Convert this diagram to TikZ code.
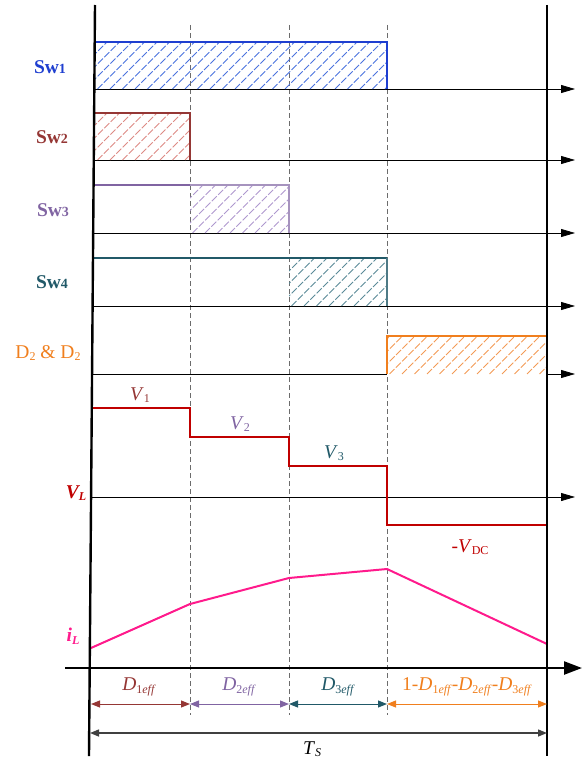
\documentclass[tikz,border=0pt]{standalone}
\usepackage{fontspec}
\setmainfont{Liberation Serif}
\usetikzlibrary{arrows.meta}
\definecolor{cblue}{HTML}{1F3FD0}
\definecolor{cblueh}{HTML}{4A72DE}
\definecolor{cbrown}{HTML}{953735}
\definecolor{cbrownh}{HTML}{DD8A84}
\definecolor{cpurple}{HTML}{8064A2}
\definecolor{cpurpleh}{HTML}{AE98CE}
\definecolor{cteal}{HTML}{215968}
\definecolor{ctealh}{HTML}{5A8A98}
\definecolor{corange}{HTML}{F07F1E}
\definecolor{corangeh}{HTML}{F39A55}
\definecolor{cred}{HTML}{C00000}
\definecolor{cpink}{HTML}{FF1A8C}
\newcommand{\hatchrect}[5]{%
  \begin{scope}
    \clip (#1,#2) rectangle (#3,#4);
    \foreach \k in {-60,-47.5,...,460}
      \draw[#5, line width=1pt, dash pattern=on 7pt off 2pt] (#1+\k,#4) -- ++(80,-80);
  \end{scope}}
\newcommand{\sublow}[1]{\raisebox{-2.5pt}{\fontsize{12}{12}\selectfont #1}}
\tikzset{
  base/.style={line width=0.8pt, black, -{Triangle[length=14pt,width=8pt]}},
  guide/.style={line width=0.9pt, gray!85!black, dash pattern=on 5pt off 3pt},
  frame/.style={line width=2.4pt, black},
  dim/.style={line width=1pt, {Triangle[length=9pt,width=7pt]}-{Triangle[length=9pt,width=7pt]}},
  lab/.style={font=\fontsize{19.5}{19.5}\selectfont},
}
\begin{document}
\begin{tikzpicture}[x=1pt,y=-1pt]
\useasboundingbox (0,0) rectangle (582,760);
% guide coordinates
\coordinate (g1t) at (190,25); \coordinate (g1b) at (190,715);
\coordinate (g2t) at (289,25); \coordinate (g2b) at (289,715);
\coordinate (g3t) at (387,25); \coordinate (g3b) at (387,715);
\coordinate (g4t) at (547,5); \coordinate (g4b) at (547,756);
% dashed guides
\draw[guide] (g1t) -- (g1b);
\draw[guide] (g2t) -- (g2b);
\draw[guide] (g3t) -- (g3b);
% baselines
\coordinate (b1s) at (94,89);  \coordinate (b1e) at (575,89);
\coordinate (b2s) at (94,160); \coordinate (b2e) at (575,160);
\coordinate (b3s) at (93,233); \coordinate (b3e) at (575,233);
\coordinate (b4s) at (93,306); \coordinate (b4e) at (575,306);
\coordinate (b5s) at (93,374); \coordinate (b5e) at (575,374);
\coordinate (b6s) at (92,497); \coordinate (b6e) at (575,497);
\draw[base] (b1s) -- (b1e);
\draw[base] (b2s) -- (b2e);
\draw[base] (b3s) -- (b3e);
\draw[base] (b4s) -- (b4e);
\draw[line width=0.8pt] (b5s) -- (387,374);
\draw[base] (547,374) -- (b5e);
\draw[base] (b6s) -- (b6e);
% Sw1
\hatchrect{95}{42}{387}{89}{cblueh}
\draw[cblue, line width=2pt] (95,42) -- (387,42) -- (387,89);
% Sw2
\hatchrect{95}{113}{190}{160}{cbrownh}
\draw[cbrown, line width=2pt] (95,113) -- (190,113) -- (190,160);
% Sw3
\hatchrect{190}{185}{289}{233}{cpurpleh}
\draw[cpurple, line width=1.6pt] (93,185) -- (190,185);
\draw[cpurple!70, line width=1.2pt] (190,185) -- (289,185) -- (289,233);
% Sw4
\hatchrect{289}{258}{387}{306}{ctealh}
\draw[cteal, line width=1.6pt] (92,258) -- (387,258);
\draw[cteal!80, line width=1.2pt] (387,258) -- (387,306);
% Diodes
\hatchrect{387}{336}{547}{374}{corangeh}
\draw[corange, line width=1.6pt] (387,374) -- (387,336) -- (547,336);
% V_L
\draw[cred, line width=2.2pt] (92,408) -- (190,408) -- (190,437) -- (289,437) -- (289,466) -- (387,466) -- (387,525) -- (547,525);
% i_L
\draw[cpink, line width=2pt] (91,648) -- (190,604) -- (289,578) -- (387,569) -- (547,644);
% frame axes
\draw[frame] (95,5) -- (89,756);
\draw[frame] (g4t) -- (g4b);
\coordinate (ax0) at (65,668); \coordinate (ax1) at (582,668);
\draw[frame, -{Triangle[length=18pt,width=13pt]}] (ax0) -- (ax1);
% dimension arrows
\coordinate (d0) at (91,704); \coordinate (d1) at (190,704);
\coordinate (d2) at (289,704); \coordinate (d3) at (387,704);
\coordinate (d4) at (547,704);
\draw[dim, cbrown] (d0) -- (d1);
\draw[dim, cpurple] (d1) -- (d2);
\draw[dim, cteal] (d2) -- (d3);
\draw[dim, corange] (d3) -- (d4);
\coordinate (t0) at (90,733); \coordinate (t1) at (547,733);
\draw[dim, black!75, line width=1.4pt] (t0) -- (t1);
% labels
\node[lab, text=cblue] (lsw1) at (50,67) {\textbf{Sw\fontsize{14}{14}\selectfont 1}};
\node[lab, text=cbrown] (lsw2) at (52,137) {\textbf{Sw\fontsize{14}{14}\selectfont 2}};
\node[lab, text=cpurple] (lsw3) at (53,210) {\textbf{Sw\fontsize{14}{14}\selectfont 3}};
\node[lab, text=cteal] (lsw4) at (52,282) {\textbf{Sw\fontsize{14}{14}\selectfont 4}};
\node[lab, text=corange] (ld) at (48,353) {D\sublow{2} \& D\sublow{2}};
\node[lab, text=cred] (lvl) at (76,493) {\textbf{\textit{V\sublow{L}}}};
\node[lab, text=cpink] (lil) at (73,636) {\textbf{\textit{i\sublow{L}}}};
\node[lab, text=cbrown] (lv1) at (140,395) {\textit{V}\sublow{1}};
\node[lab, text=cpurple] (lv2) at (240,424) {\textit{V}\sublow{2}};
\node[lab, text=cteal] (lv3) at (334,453) {\textit{V}\sublow{3}};
\node[lab, text=cred] (lvdc) at (470,547) {-\textit{V}\sublow{DC}};
\node[lab, text=cbrown] (ld1) at (139,687) {\textit{D}\sublow{1\textit{eff}}};
\node[lab, text=cpurple] (ld2) at (239,687) {\textit{D}\sublow{2\textit{eff}}};
\node[lab, text=cteal] (ld3) at (338,687) {\textit{D}\sublow{3\textit{eff}}};
\node[lab, text=corange] (ld4) at (467,687) {1-\textit{D}\sublow{1\textit{eff}}-\textit{D}\sublow{2\textit{eff}}-\textit{D}\sublow{3\textit{eff}}};
\node[lab, text=black] (lts) at (312,749) {\textit{T}\sublow{\textit{S}}};
\end{tikzpicture}
\end{document}
